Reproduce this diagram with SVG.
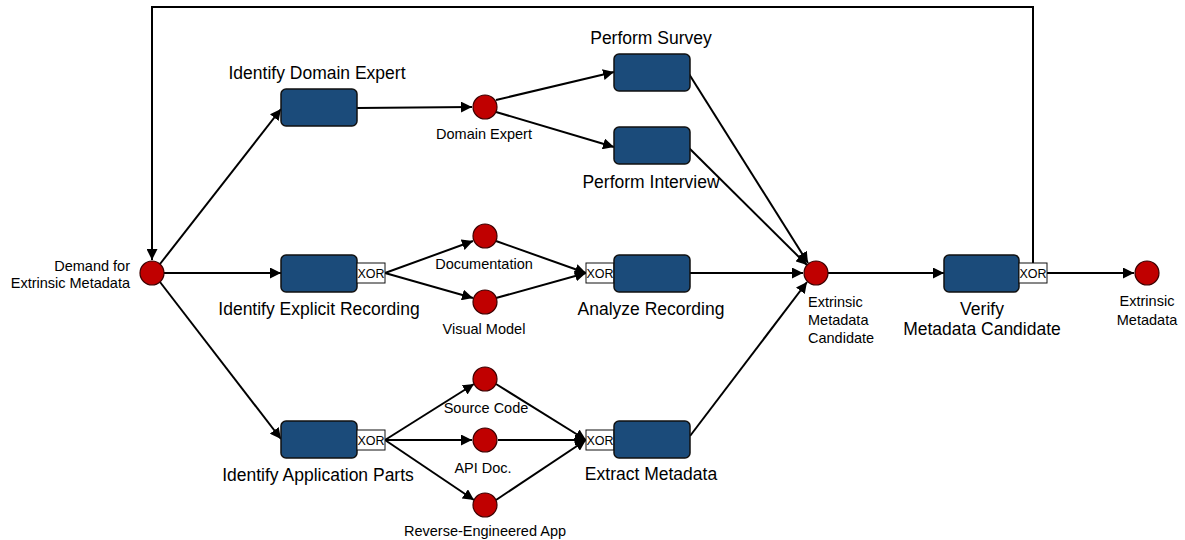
<svg xmlns="http://www.w3.org/2000/svg" width="1185" height="540" viewBox="0 0 1185 540">
<style>
.box{fill:#1b4b7a;stroke:#111;stroke-width:1.5}
.xor{fill:#fff;stroke:#111;stroke-width:1}
.ev{fill:#c00000;stroke:#3a0000;stroke-width:1.2}
.c{stroke:#000;stroke-width:2;fill:none}
.a{marker-end:url(#ah)}
.lg{font-family:"Liberation Sans",Arial,sans-serif;font-size:17.5px;fill:#000}
.sm{font-family:"Liberation Sans",Arial,sans-serif;font-size:14.5px;fill:#000}
.xt{font-family:"Liberation Sans",Arial,sans-serif;font-size:12.5px;fill:#000}
</style>
<defs>
<marker id="ah" viewBox="0 0 10 10" refX="10" refY="5" markerWidth="5.5" markerHeight="5.5" orient="auto" markerUnits="strokeWidth">
<path d="M0,0 L10,5 L0,10 z" fill="#000"/>
</marker>
</defs>
<rect width="1185" height="540" fill="#fff"/>
<g id="connectors">
<polyline class="c a" points="1033,263 1033,7 152,7 152,260"/>
<line class="c a" x1="160" y1="264" x2="281" y2="109"/>
<line class="c a" x1="164" y1="273" x2="281" y2="273"/>
<line class="c a" x1="160" y1="282" x2="281" y2="439"/>
<line class="c a" x1="357" y1="108" x2="472" y2="107"/>
<line class="c a" x1="496" y1="100" x2="614" y2="72"/>
<line class="c a" x1="496" y1="112" x2="614" y2="147"/>
<line class="c a" x1="385" y1="273" x2="473" y2="241"/>
<line class="c a" x1="385" y1="273" x2="473" y2="298"/>
<line class="c a" x1="496" y1="241" x2="586" y2="273"/>
<line class="c a" x1="496" y1="298" x2="586" y2="273"/>
<line class="c a" x1="385" y1="440" x2="474" y2="384"/>
<line class="c a" x1="385" y1="440" x2="472" y2="440"/>
<line class="c a" x1="385" y1="440" x2="474" y2="500"/>
<line class="c a" x1="496" y1="384" x2="586" y2="440"/>
<line class="c a" x1="498" y1="440" x2="586" y2="440"/>
<line class="c a" x1="496" y1="500" x2="586" y2="440"/>
<line class="c a" x1="689" y1="74" x2="808" y2="263"/>
<line class="c a" x1="689" y1="148" x2="807" y2="265"/>
<line class="c a" x1="690" y1="273" x2="803" y2="273"/>
<line class="c a" x1="690" y1="436" x2="807" y2="282"/>
<line class="c a" x1="828" y1="273" x2="944" y2="273"/>
<line class="c a" x1="1047" y1="273" x2="1134" y2="273"/>
</g>
<g id="demand">
<circle class="ev" cx="152" cy="273" r="12"/>
<text class="sm" x="130" y="271" text-anchor="end">Demand for</text>
<text class="sm" x="130" y="288" text-anchor="end">Extrinsic Metadata</text>
</g>
<g id="identify-domain-expert">
<rect class="box" x="281" y="89" width="76" height="37" rx="5"/>
<text class="lg" x="317" y="79" text-anchor="middle">Identify Domain Expert</text>
</g>
<g id="domain-expert">
<circle class="ev" cx="485" cy="107" r="12"/>
<text class="sm" x="484" y="139" text-anchor="middle">Domain Expert</text>
</g>
<g id="perform-survey">
<rect class="box" x="614" y="54" width="76" height="37" rx="5"/>
<text class="lg" x="651" y="44" text-anchor="middle">Perform Survey</text>
</g>
<g id="perform-interview">
<rect class="box" x="614" y="127" width="76" height="37" rx="5"/>
<text class="lg" x="651" y="188" text-anchor="middle">Perform Interview</text>
</g>
<g id="identify-explicit-recording">
<rect class="box" x="281" y="255" width="76" height="37" rx="5"/>
<rect class="xor" x="357" y="263" width="28" height="20"/>
<text class="xt" x="371" y="278" text-anchor="middle">XOR</text>
<text class="lg" x="319" y="315" text-anchor="middle">Identify Explicit Recording</text>
</g>
<g id="documentation">
<circle class="ev" cx="485" cy="236" r="12"/>
<text class="sm" x="484" y="269" text-anchor="middle">Documentation</text>
</g>
<g id="visual-model">
<circle class="ev" cx="485" cy="302" r="12"/>
<text class="sm" x="484" y="334" text-anchor="middle">Visual Model</text>
</g>
<g id="analyze-recording">
<rect class="xor" x="586" y="263" width="28" height="20"/>
<text class="xt" x="600" y="278" text-anchor="middle">XOR</text>
<rect class="box" x="614" y="255" width="76" height="37" rx="5"/>
<text class="lg" x="651" y="315" text-anchor="middle">Analyze Recording</text>
</g>
<g id="identify-application-parts">
<rect class="box" x="281" y="421" width="76" height="37" rx="5"/>
<rect class="xor" x="357" y="430" width="28" height="20"/>
<text class="xt" x="371" y="445" text-anchor="middle">XOR</text>
<text class="lg" x="318" y="481" text-anchor="middle">Identify Application Parts</text>
</g>
<g id="source-code">
<circle class="ev" cx="485" cy="379" r="12"/>
<text class="sm" x="486" y="413" text-anchor="middle">Source Code</text>
</g>
<g id="api-doc">
<circle class="ev" cx="485" cy="440" r="12"/>
<text class="sm" x="483" y="473" text-anchor="middle">API Doc.</text>
</g>
<g id="reverse-engineered-app">
<circle class="ev" cx="485" cy="505" r="12"/>
<text class="sm" x="485" y="536" text-anchor="middle">Reverse-Engineered App</text>
</g>
<g id="extract-metadata">
<rect class="xor" x="586" y="430" width="28" height="20"/>
<text class="xt" x="600" y="445" text-anchor="middle">XOR</text>
<rect class="box" x="614" y="421" width="76" height="37" rx="5"/>
<text class="lg" x="651" y="480" text-anchor="middle">Extract Metadata</text>
</g>
<g id="extrinsic-metadata-candidate">
<circle class="ev" cx="816" cy="273" r="12"/>
<text class="sm" x="808" y="307">Extrinsic</text>
<text class="sm" x="808" y="325">Metadata</text>
<text class="sm" x="808" y="343">Candidate</text>
</g>
<g id="verify-metadata-candidate">
<rect class="box" x="944" y="255" width="75" height="37" rx="5"/>
<rect class="xor" x="1019" y="263" width="28" height="20"/>
<text class="xt" x="1033" y="278" text-anchor="middle">XOR</text>
<text class="lg" x="982" y="315" text-anchor="middle">Verify</text>
<text class="lg" x="982" y="335" text-anchor="middle">Metadata Candidate</text>
</g>
<g id="extrinsic-metadata">
<circle class="ev" cx="1147" cy="273" r="12"/>
<text class="sm" x="1147" y="306" text-anchor="middle">Extrinsic</text>
<text class="sm" x="1147" y="325" text-anchor="middle">Metadata</text>
</g>
</svg>
